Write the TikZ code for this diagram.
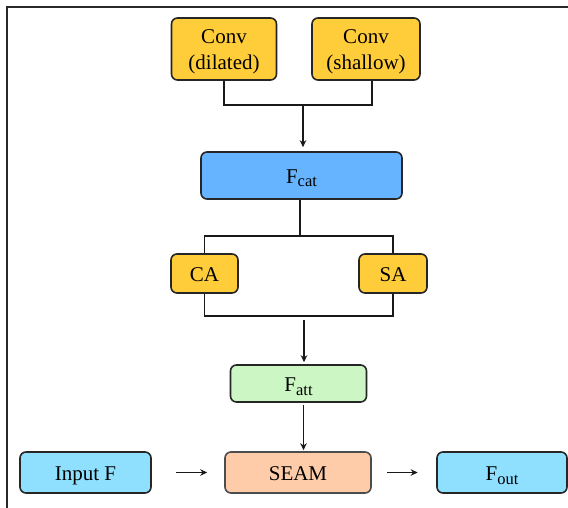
\documentclass[tikz,border=0pt]{standalone}
\usepackage{fontspec}
\setmainfont{Liberation Serif}
\usetikzlibrary{arrows.meta}
\definecolor{cyellow}{RGB}{255,204,58}
\definecolor{cblue}{RGB}{102,180,255}
\definecolor{cgreen}{RGB}{204,247,196}
\definecolor{cpeach}{RGB}{255,204,170}
\definecolor{ccyan}{RGB}{143,224,255}
\definecolor{cframe}{RGB}{40,40,40}
\newcommand{\sbs}[1]{\raisebox{-3.5pt}{\fontsize{16.5}{16.5}\selectfont #1}}
\tikzset{
  box/.style={draw=black!85, line width=1.6pt, rounded corners=6pt, align=center,
    font=\fontsize{21}{25.5}\selectfont, inner sep=0pt, text height=20pt, text depth=4pt},
  txt/.style={align=center, font=\fontsize{21}{25.5}\selectfont, inner sep=0pt},
  conn/.style={line width=1.2pt, draw=black!90},
  arr/.style={conn, -{Stealth[length=7pt,width=6.5pt]}}
}
\begin{document}
\begin{tikzpicture}[x=1pt,y=-1pt]
\useasboundingbox (0,0) rectangle (568,508);
\fill[white] (0,0) rectangle (568,508);
\draw[cframe, line width=1.4pt] (7,508) -- (7,7) -- (568,7);

\node[box, fill=cyellow, minimum width=105pt, minimum height=62pt] (cd) at (224,49) {};
\node[txt] (cdt) at (224,52) {Conv\\(dilated)};
\node[box, fill=cyellow, minimum width=108pt, minimum height=62pt] (cs) at (366,49) {};
\node[txt] (cst) at (366,52) {Conv\\(shallow)};
\node[box, fill=cblue, minimum width=201pt, minimum height=47pt] (fcat) at (301.5,175.5) {F\sbs{cat}};
\node[box, fill=cyellow, minimum width=67pt, minimum height=39pt] (ca) at (204.5,273.5) {CA};
\node[box, fill=cyellow, minimum width=68pt, minimum height=39pt] (sa) at (393,273.5) {SA};
\node[box, fill=cgreen, minimum width=136pt, minimum height=37pt] (fatt) at (298.5,383.5) {F\sbs{att}};
\node[box, fill=cpeach, draw=black!70, minimum width=146pt, minimum height=41pt] (seam) at (298,472.5) {SEAM};
\node[box, fill=ccyan, minimum width=131pt, minimum height=41pt] (inp) at (85.5,472.5) {Input F};
\node[box, fill=ccyan, minimum width=130pt, minimum height=41pt] (fout) at (502,472.5) {F\sbs{out}};

\coordinate (j1) at (303,105);
\coordinate (j2) at (300,236);
\coordinate (j3) at (304,316);
\coordinate (j3b) at (304,320);

\draw[conn] (cd.south) |- ([xshift=6pt]cs.south |- j1) -- ([xshift=6pt]cs.south);
\draw[arr, shorten >=4pt] (j1) -- (fcat.north -| j1);

\draw[conn] (fcat.south -| j2) -- (j2);
\draw[conn] (ca.north) |- (j2) -| (sa.north);

\draw[conn] (ca.south) |- (j3) -| (sa.south);
\draw[arr, shorten >=2pt] (j3b) -- (fatt.north -| j3b);

\draw[arr, shorten <=2pt, shorten >=1pt] ([xshift=5pt]fatt.south) -- ([xshift=5.5pt]seam.north);

\draw[arr, shorten <=24.5pt, shorten >=17pt] (inp.east) -- (seam.west);
\draw[arr, shorten <=15.5pt, shorten >=18.5pt] (seam.east) -- (fout.west);
\end{tikzpicture}
\end{document}
